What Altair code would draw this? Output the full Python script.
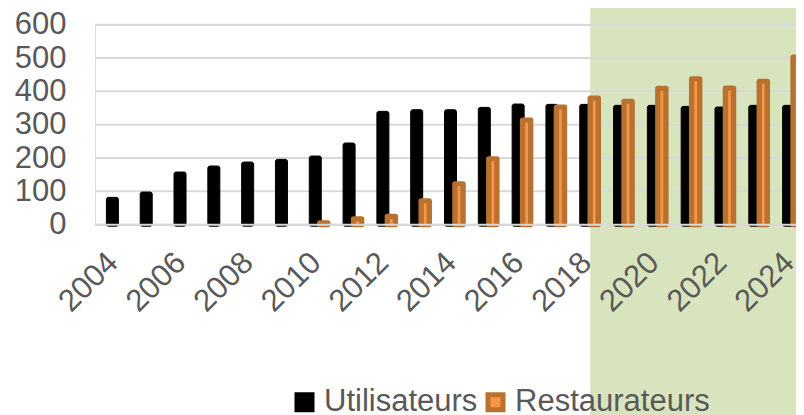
import altair as alt
import pandas as pd

years = [2004, 2005, 2006, 2007, 2008, 2009, 2010, 2011, 2012, 2013, 2014,
         2015, 2016, 2017, 2018, 2019, 2020, 2021, 2022, 2023, 2024]
utilisateurs = [82, 98, 158, 176, 188, 196, 206, 245, 340, 345, 345,
                352, 362, 361, 361, 358, 358, 355, 353, 358, 358]
restaurateurs = [None, None, None, None, None, None, 6, 18, 25, 72, 123,
                 198, 314, 353, 380, 370, 409, 438, 410, 430, 503]
series = ["Utilisateurs", "Restaurateurs"]
y_ticks = [0, 100, 200, 300, 400, 500, 600]
x_ticks = [2004, 2006, 2008, 2010, 2012, 2014, 2016, 2018, 2020, 2022, 2024]
shade_start = [2018]
shade_end = [2030]

FONT = "Liberation Sans"
GREY = "#595959"
ORANGE_DARK = "#b9712f"
ORANGE_LIGHT = "#f79646"
FS = 31
STEP = 34.3
W = 701
H = 200

df_u = pd.DataFrame({"year": years, "value": utilisateurs, "series": series[0]})
df_r = pd.DataFrame({"year": years, "value": restaurateurs, "series": series[1]}).dropna()
df_shade = pd.DataFrame({"year": shade_start, "year_end": shade_end})
df_grid = pd.DataFrame({"value": y_ticks})
df_zero = pd.DataFrame({"value": y_ticks[:1]})

x_scale = alt.Scale(domain=[2003.5, 2003.5 + W / STEP], nice=False, zero=False)
y_scale = alt.Scale(domain=[0, 600], nice=False)
fill_scale = alt.Scale(domain=series, range=["#000000", ORANGE_LIGHT])
stroke_scale = alt.Scale(domain=series, range=["#000000", ORANGE_DARK])

x_axis = alt.Axis(values=x_ticks, format="d", labelAngle=-45, labelFontSize=FS,
                  labelColor=GREY, labelFont=FONT, ticks=False, domain=False,
                  grid=False, labelPadding=33, labelOffset=-4, labelAlign="right",
                  labelBaseline="middle", labelOverlap=False, labelFlush=False,
                  labelBound=False, title=None, zindex=2)
y_axis = alt.Axis(values=y_ticks, labelFontSize=FS, labelColor=GREY, labelFont=FONT,
                  ticks=False, domain=False, grid=False, labelPadding=29, title=None,
                  zindex=2)

legend = alt.Legend(orient="none", legendX=194, legendY=362, direction="horizontal",
                    title=None, symbolType="square", symbolSize=225,
                    symbolStrokeWidth=5, labelFontSize=FS, labelColor=GREY,
                    labelFont=FONT, labelOffset=4, columnPadding=0, padding=0,
                    symbolOpacity=1, labelLimit=0)

x_enc = alt.X("year:Q", scale=x_scale, axis=x_axis)
y_enc = alt.Y("value:Q", scale=y_scale, axis=y_axis)

shade = alt.Chart(df_shade).mark_rect(color="#d7e4bd").encode(
    x=x_enc, x2="year_end:Q", y=alt.value(-40), y2=alt.value(500))

grid = alt.Chart(df_grid).mark_rule(color="#d9d9d9", strokeWidth=2).encode(y=y_enc)

bars_u = alt.Chart(df_u).mark_bar(size=12, xOffset=-4.5, strokeWidth=1,
                                  cornerRadius=2, y2Offset=1.5).encode(
    x=x_enc, y=y_enc, y2=alt.datum(0),
    fill=alt.Fill("series:N", scale=fill_scale, legend=legend),
    stroke=alt.Stroke("series:N", scale=stroke_scale, legend=legend))

bars_r_outer = alt.Chart(df_r).mark_bar(
    size=13.5, xOffset=4, yOffset=-2.5, y2Offset=2.5, cornerRadius=2.5,
    color=ORANGE_DARK).encode(x=x_enc, y=y_enc, y2=alt.datum(0))

bars_r_inner = alt.Chart(df_r).transform_filter(alt.datum.value >= 15).mark_bar(
    size=2.7, xOffset=4, yOffset=2.5, y2Offset=-0.5,
    color=ORANGE_LIGHT).encode(x=x_enc, y=y_enc, y2=alt.datum(0))

zero_line = alt.Chart(df_zero).mark_rule(color="#d9d9d9", strokeWidth=2).encode(y=y_enc)

chart = alt.layer(shade, grid, bars_u, bars_r_outer, bars_r_inner, zero_line).properties(
    width=W, height=H,
    padding={"left": 87, "top": 16.7, "right": 0, "bottom": 190.3},
    autosize=alt.AutoSizeParams(type="none"),
).configure_view(stroke=None).configure(font=FONT)

chart.save("out.html", embed_options={"renderer": "svg", "actions": False})
